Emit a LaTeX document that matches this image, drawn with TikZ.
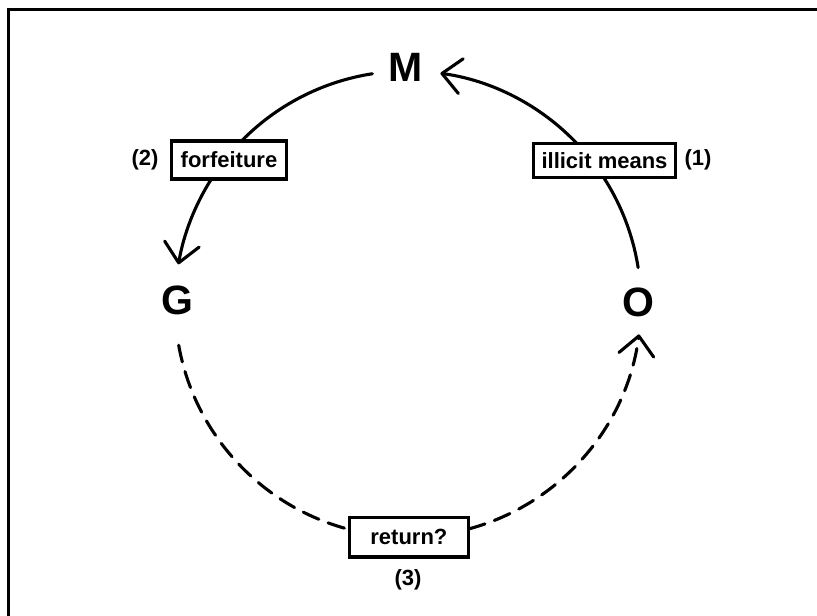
\documentclass[tikz,border=0pt]{standalone}
\usepackage{fontspec}
\setmainfont{Liberation Sans}
\usetikzlibrary{arrows.meta,calc}
\begin{document}
\begin{tikzpicture}[x=1pt,y=1pt,
  letter/.style={font=\fontsize{41}{41}\selectfont\bfseries, inner sep=0pt},
  labelbox/.style={draw, line width=3.1pt, font=\fontsize{22}{22}\selectfont\bfseries, inner sep=0pt, fill=white},
  numlabel/.style={font=\fontsize{22}{22}\selectfont\bfseries, inner sep=0pt},
  arcline/.style={line width=3.1pt, line cap=round},
  tipped/.style={-{Straight Barb[length=19pt,width=35pt,round]}},
  dashedline/.style={dash pattern=on 17pt off 10pt}
]
\useasboundingbox (0,0) rectangle (817,-616);
\clip (0,0) rectangle (817,-616);
% outer frame (right and bottom edges lie outside the picture)
\draw[line width=3.2pt] (8.5,-9.5) rectangle (830,-630);

% main letters
\node[letter] (M) at (406,-67) {M};
\node[letter] (G) at (177,-300) {G};
\node[letter] (O) at (638,-302) {O};

% label boxes
\node[labelbox, minimum width=141.6pt, minimum height=33.6pt] (illicit) at (604.5,-160.5) {illicit means};
\node[labelbox, minimum width=115.7pt, minimum height=38pt] (forf) at (229,-160) {forfeiture};
\node[labelbox, minimum width=119.7pt, minimum height=39.3pt] (ret) at (408.9,-537.3) {return?};

% numbers
\node[numlabel] (n1) at (698,-160) {(1)};
\node[numlabel] (n2) at (145,-160) {(2)};
\node[numlabel] (n3) at (408,-580) {(3)};

% circle points
\coordinate (C) at (408,-304);
\coordinate (Otop) at ($(C)+(9:233)$);
\coordinate (illbot) at ($(C)+(32.9:233)$);
\coordinate (illtop) at ($(C)+(43.5:233)$);
\coordinate (Mleft) at ($(C)+(98.8:233)$);
\coordinate (forftop) at ($(C)+(135.6:233)$);
\coordinate (forfbot) at ($(C)+(147.6:233)$);
\coordinate (Gbot) at ($(C)+(190.2:233)$);
\coordinate (retleft) at ($(C)+(255.3:233)$);
\coordinate (retright) at ($(C)+(285.1:233)$);

% connectors
\draw[arcline] (Otop) arc[start angle=9, end angle=32.9, radius=233];
\draw[arcline, tipped] (illtop) arc[start angle=43.5, end angle=82, radius=233];
\draw[arcline] (Mleft) arc[start angle=98.8, end angle=135.6, radius=233];
\draw[arcline, tipped] (forfbot) arc[start angle=147.6, end angle=170.2, radius=233];
\draw[arcline, dashedline] (Gbot) arc[start angle=190.2, end angle=255.3, radius=233];
\draw[arcline, dashedline, tipped] (retright) arc[start angle=285.1, end angle=352.5, radius=233];
\end{tikzpicture}
\end{document}
